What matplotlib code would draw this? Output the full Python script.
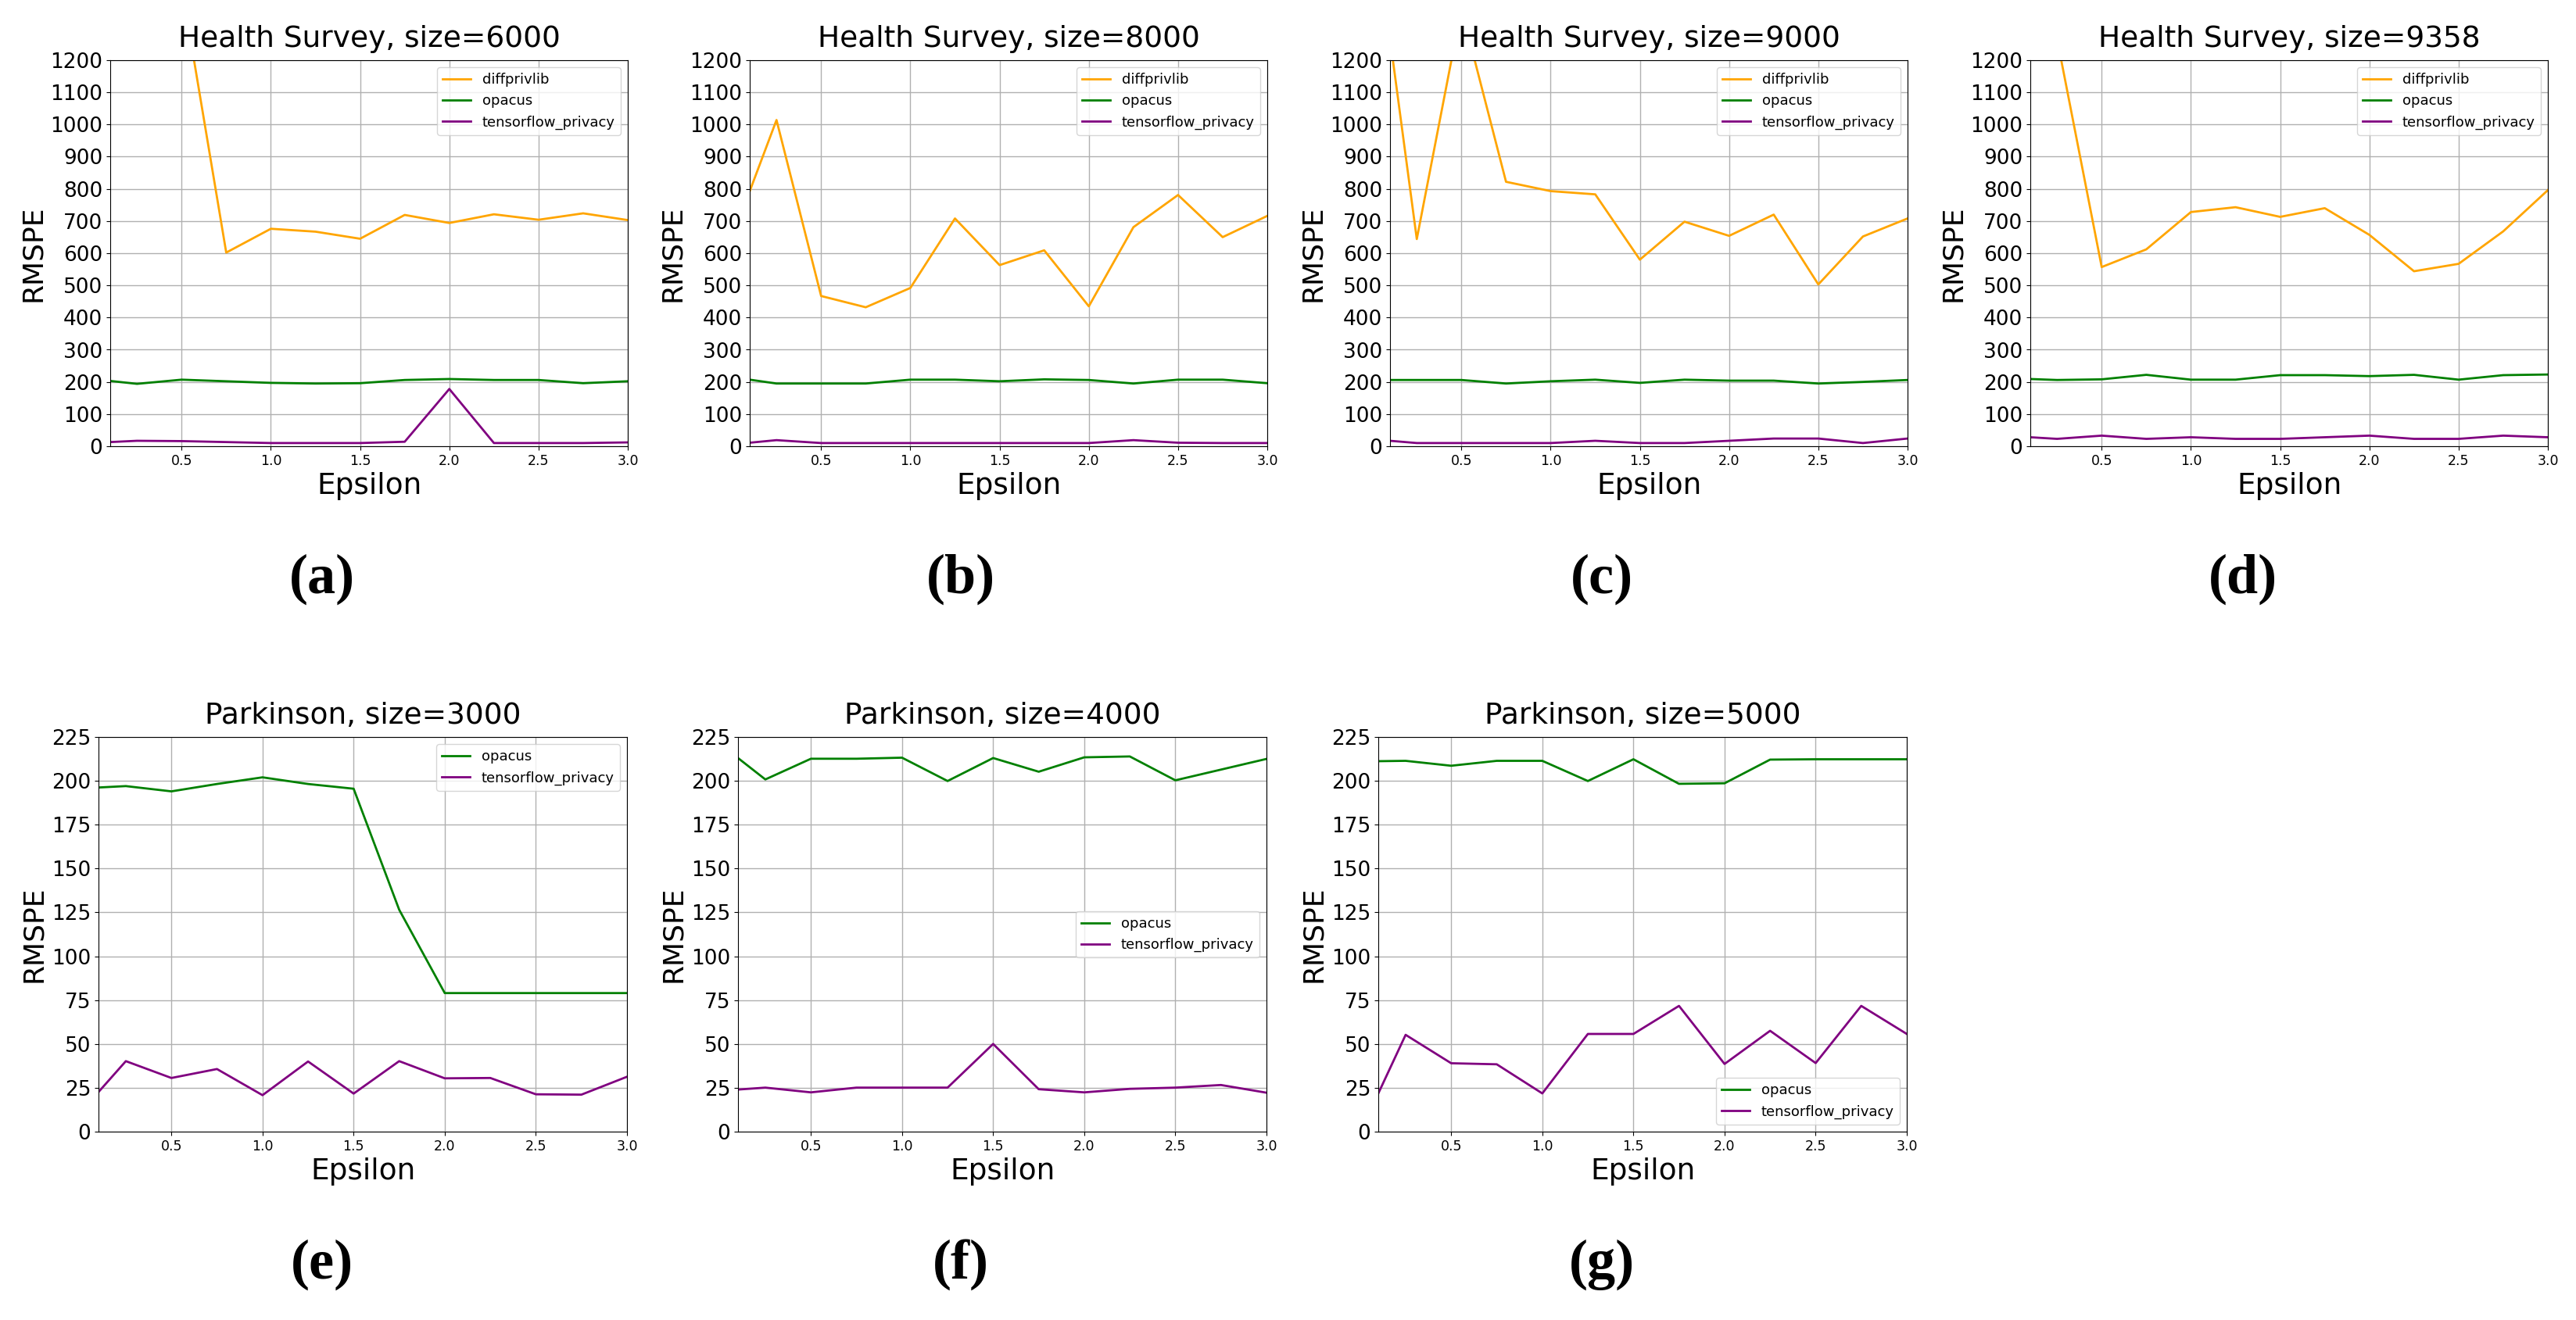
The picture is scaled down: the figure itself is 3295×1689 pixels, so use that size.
import matplotlib
matplotlib.use("Agg")
import matplotlib.pyplot as plt

# epsilon values shared by every panel
epsilons = [0.1, 0.25, 0.5, 0.75, 1.0, 1.25, 1.5, 1.75, 2.0, 2.25, 2.5, 2.75, 3.0]

# Health Survey
hs6000_diffprivlib = [1900, 1600, 1430, 602, 676, 667, 645, 719, 694, 721, 704, 724, 703]
hs6000_opacus = [203, 194, 207, 202, 197, 195, 196, 206, 209, 206, 206, 196, 202]
hs6000_tf = [13, 17, 16, 13, 10, 10, 10, 14, 178, 10, 10, 10, 12]

hs8000_diffprivlib = [793, 1014, 467, 432, 492, 708, 563, 609, 435, 681, 781, 650, 716]
hs8000_opacus = [207, 195, 195, 195, 207, 207, 202, 208, 206, 195, 207, 207, 196]
hs8000_tf = [11, 19, 10, 10, 10, 10, 10, 10, 10, 19, 11, 10, 10]

hs9000_diffprivlib = [1267, 644, 1360, 822, 793, 783, 580, 698, 654, 720, 503, 652, 708]
hs9000_opacus = [206, 206, 206, 195, 202, 207, 197, 207, 204, 204, 195, 200, 206]
hs9000_tf = [17, 10, 10, 10, 10, 17, 10, 10, 17, 24, 24, 10, 24]

hs9358_diffprivlib = [1450, 1266, 557, 612, 728, 743, 713, 740, 657, 544, 567, 668, 796]
hs9358_opacus = [209, 206, 208, 222, 207, 207, 221, 221, 218, 222, 207, 221, 223]
hs9358_tf = [28, 23, 33, 23, 28, 23, 23, 28, 33, 23, 23, 33, 28]

# Parkinson
pk3000_opacus = [196.2, 197, 194, 198.2, 202, 198.2, 195.5, 126.5, 79, 79, 79, 79, 79]
pk3000_tf = [22.6, 40.2, 30.6, 35.7, 20.8, 40, 21.7, 40.2, 30.4, 30.6, 21.3, 21.1, 31.3]

pk4000_opacus = [213, 200.8, 212.6, 212.6, 213.2, 199.9, 213, 205.2, 213.4, 213.9, 200.3, 206.4, 212.5]
pk4000_tf = [24, 25.1, 22.4, 25.1, 25.1, 25.1, 50, 24.2, 22.4, 24.4, 25.1, 26.6, 22.2]

pk5000_opacus = [211.2, 211.4, 208.6, 211.4, 211.4, 199.9, 212.3, 198.3, 198.6, 212.1, 212.3, 212.3, 212.3]
pk5000_tf = [21.8, 55.2, 39, 38.4, 21.8, 55.7, 55.7, 71.7, 38.6, 57.5, 39.1, 71.7, 55.7]

hs_sizes = [6000, 8000, 9000, 9358]
pk_sizes = [3000, 4000, 5000]
panel_labels = ["(a)", "(b)", "(c)", "(d)", "(e)", "(f)", "(g)"]

W, H = 3295, 1689
fig = plt.figure(figsize=(W / 100, H / 100), dpi=100)
plt.rcParams['lines.linewidth'] = 2.0


def px_axes(left, top, right, bottom):
    return fig.add_axes([left / W, 1 - bottom / H, (right - left) / W, (bottom - top) / H])


def style(ax, title, ymax, ystep):
    ax.set_title(title, fontsize=27, pad=12)
    ax.set_xlim(0.1, 3.0)
    ax.set_ylim(0, ymax)
    ax.set_yticks(range(0, ymax + 1, ystep))
    ax.set_xticks([0.5, 1.0, 1.5, 2.0, 2.5, 3.0])
    ax.tick_params(axis="y", labelsize=19)
    ax.tick_params(axis="x", labelsize=12.5)
    ax.set_xlabel("Epsilon", fontsize=27)
    ax.set_ylabel("RMSPE", fontsize=26)
    ax.grid(True, linewidth=1.0)


# top row
hs_data = [
    (hs6000_diffprivlib, hs6000_opacus, hs6000_tf),
    (hs8000_diffprivlib, hs8000_opacus, hs8000_tf),
    (hs9000_diffprivlib, hs9000_opacus, hs9000_tf),
    (hs9358_diffprivlib, hs9358_opacus, hs9358_tf),
]
top_lefts = [141, 959, 1778, 2597]
for i, (size, (d, o, t)) in enumerate(zip(hs_sizes, hs_data)):
    ax = px_axes(top_lefts[i], 77, top_lefts[i] + 662, 571)
    ax.plot(epsilons, d, color="orange", label="diffprivlib")
    ax.plot(epsilons, o, color="green", label="opacus")
    ax.plot(epsilons, t, color="purple", label="tensorflow_privacy")
    style(ax, f"Health Survey, size={size}", 1200, 100)
    ax.legend(loc="upper right", fontsize=13)

# bottom row
pk_data = [
    (pk3000_opacus, pk3000_tf),
    (pk4000_opacus, pk4000_tf),
    (pk5000_opacus, pk5000_tf),
]
bot_lefts = [126, 944, 1763]
legend_locs = ["upper right", "center right", "lower right"]
for i, (size, (o, t)) in enumerate(zip(pk_sizes, pk_data)):
    ax = px_axes(bot_lefts[i], 943, bot_lefts[i] + 676, 1448)
    ax.plot(epsilons, o, color="green", label="opacus")
    ax.plot(epsilons, t, color="purple", label="tensorflow_privacy")
    style(ax, f"Parkinson, size={size}", 225, 25)
    ax.legend(loc=legend_locs[i], fontsize=13)

# subfigure captions
label_x = [412, 1229, 2049, 2869, 412, 1229, 2049]
label_y = [741] * 4 + [1618] * 3
for lab, lx, ly in zip(panel_labels, label_x, label_y):
    fig.text(lx / W, 1 - ly / H, lab, ha="center", va="center",
             fontsize=52, fontweight="bold", family="Liberation Serif")

fig.savefig("out.png", dpi=100)
